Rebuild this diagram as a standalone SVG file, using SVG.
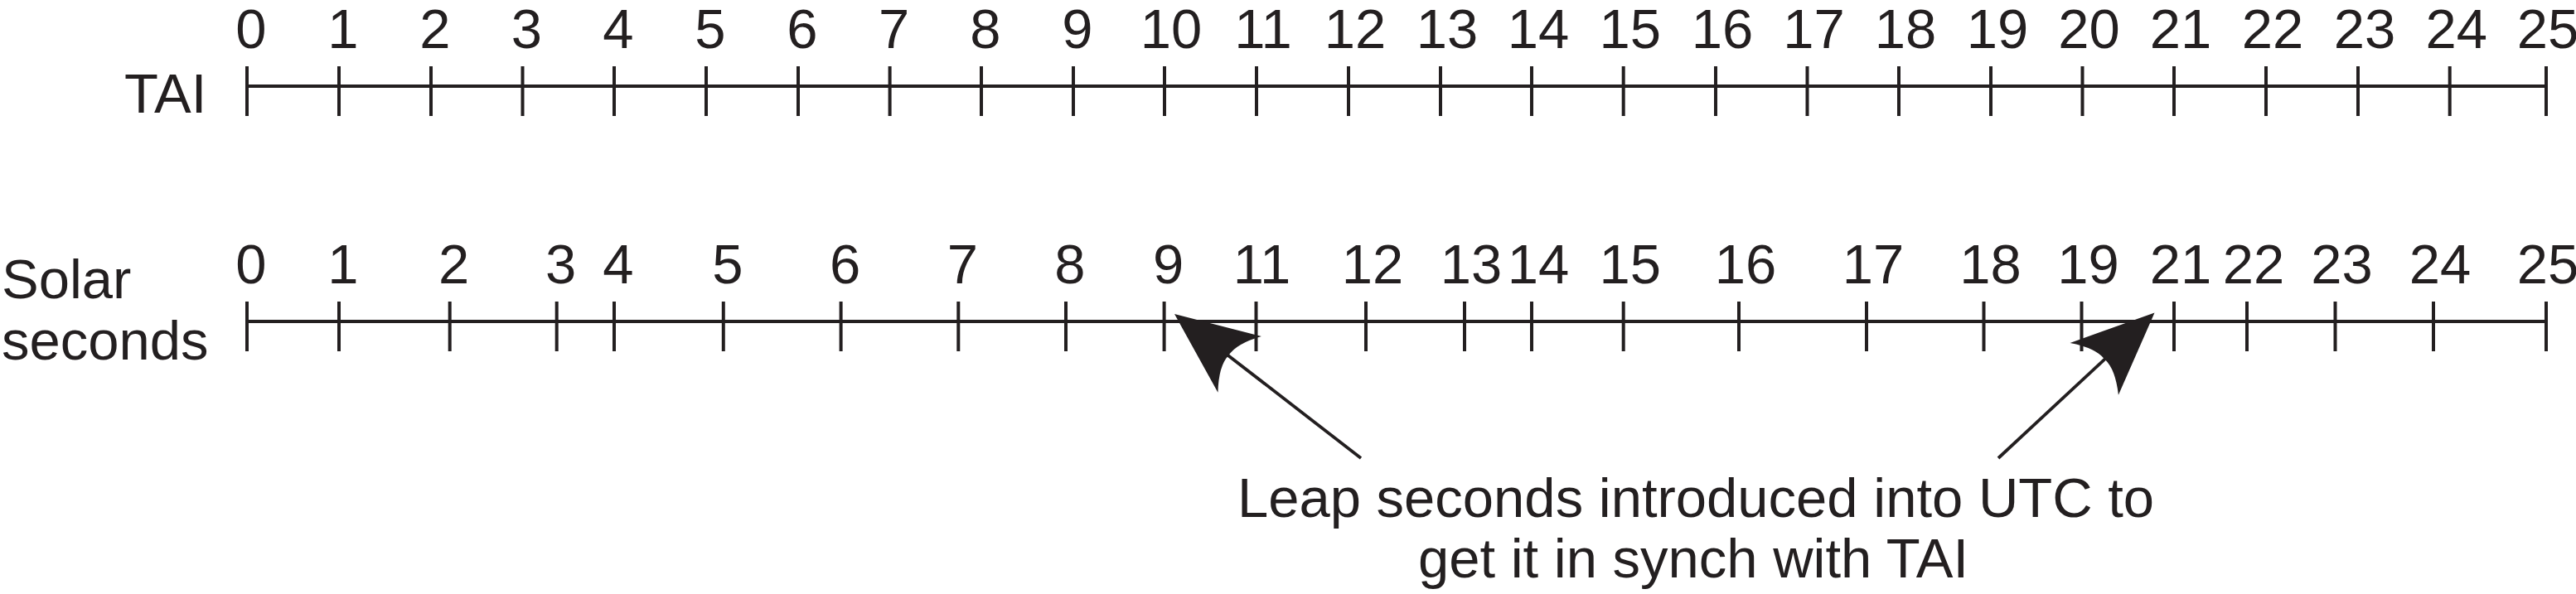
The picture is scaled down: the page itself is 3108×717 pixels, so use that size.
<svg xmlns="http://www.w3.org/2000/svg" width="3108" height="717" viewBox="0 0 3108 717">
<style>
text{font-family:"Liberation Sans",Arial,sans-serif;font-size:67px;fill:#231f20}
.n{text-anchor:middle}
.ax{stroke:#231f20;stroke-width:4;fill:none}
.arr{stroke:#231f20;stroke-width:3.8;fill:none;marker-end:url(#head)}
</style>
<defs>
<marker id="head" markerUnits="userSpaceOnUse" orient="auto" refX="0" refY="0" markerWidth="120" markerHeight="120" viewBox="-20 -30 70 60" overflow="visible">
<path d="M46,0 L-12,-25 Q-1,-10 -2,0 Q-1,10 -12,25 Z" fill="#231f20"/>
</marker>
</defs>
<rect width="3108" height="717" fill="#fff"/>
<g id="tai-label"><text x="150" y="136">TAI</text></g>
<g id="solar-label"><text x="2" y="360">Solar</text><text x="2" y="433.5">seconds</text></g>
<g id="tai-axis">
<path class="ax" d="M298,104H3072"/>
<path class="ax" d="M298,80V140M409,80V140M520,80V140M630.5,80V140M741,80V140M852,80V140M963,80V140M1073.6,80V140M1184,80V140M1295,80V140M1405,80V140M1516,80V140M1627,80V140M1738,80V140M1848,80V140M1958.7,80V140M2070,80V140M2180.5,80V140M2291,80V140M2402,80V140M2512.5,80V140M2623,80V140M2734,80V140M2845,80V140M2955.7,80V140M3072,80V140"/>
<g class="n">
<text x="303" y="58">0</text><text x="414" y="58">1</text><text x="525" y="58">2</text><text x="635.5" y="58">3</text><text x="746" y="58">4</text><text x="857" y="58">5</text><text x="968" y="58">6</text><text x="1078.6" y="58">7</text><text x="1189" y="58">8</text><text x="1300" y="58">9</text><text x="1413" y="58">10</text><text x="1524" y="58">11</text><text x="1635" y="58">12</text><text x="1746" y="58">13</text><text x="1856" y="58">14</text><text x="1966.7" y="58">15</text><text x="2078" y="58">16</text><text x="2188.5" y="58">17</text><text x="2299" y="58">18</text><text x="2410" y="58">19</text><text x="2520.5" y="58">20</text><text x="2631" y="58">21</text><text x="2742" y="58">22</text><text x="2853" y="58">23</text><text x="2963.7" y="58">24</text><text x="3074" y="58">25</text>
</g>
</g>
<g id="solar-axis">
<path class="ax" d="M298,388H3072"/>
<path class="ax" d="M298,364V424M409,364V424M542.7,364V424M671.7,364V424M741,364V424M872.8,364V424M1014.6,364V424M1156.3,364V424M1286,364V424M1404.6,364V424M1515.5,364V424M1648,364V424M1767,364V424M1848,364V424M1958.7,364V424M2098,364V424M2252,364V424M2393.5,364V424M2511.5,364V424M2623,364V424M2711,364V424M2817.5,364V424M2936,364V424M3072,364V424"/>
<g class="n">
<text x="303" y="342">0</text><text x="414" y="342">1</text><text x="547.7" y="342">2</text><text x="676.7" y="342">3</text><text x="746" y="342">4</text><text x="877.8" y="342">5</text><text x="1019.6" y="342">6</text><text x="1161.3" y="342">7</text><text x="1291" y="342">8</text><text x="1409.6" y="342">9</text><text x="1522.5" y="342">11</text><text x="1656" y="342">12</text><text x="1775" y="342">13</text><text x="1856" y="342">14</text><text x="1966.7" y="342">15</text><text x="2106" y="342">16</text><text x="2260" y="342">17</text><text x="2401.5" y="342">18</text><text x="2519.5" y="342">19</text><text x="2631" y="342">21</text><text x="2719" y="342">22</text><text x="2825.5" y="342">23</text><text x="2944" y="342">24</text><text x="3074" y="342">25</text>
</g>
</g>
<g id="note">
<text class="n" x="2046" y="624">Leap seconds introduced into UTC to</text>
<text class="n" x="2043" y="697">get it in synch with TAI</text>
</g>
<g id="connectors">
<path class="arr" d="M1642,553L1479.4,427.2"/>
<path class="arr" d="M2411,553L2541.8,431.3"/>
</g>
</svg>
